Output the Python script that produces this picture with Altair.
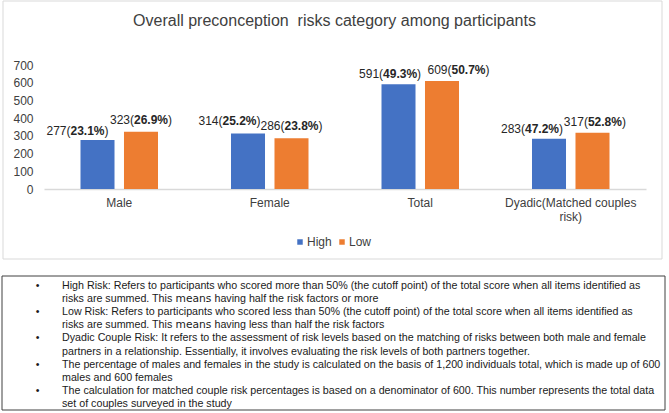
import altair as alt
import pandas as pd

# ---- data -------------------------------------------------------------
categories = ["Male", "Female", "Total", "Dyadic(Matched couples risk)"]
series = ["High", "Low"]
high_counts = [277, 314, 591, 283]
low_counts = [323, 286, 609, 317]
high_pct = [23.1, 25.2, 49.3, 47.2]
low_pct = [26.9, 23.8, 50.7, 52.8]
y_ticks = [0, 100, 200, 300, 400, 500, 600, 700]

title_text = "Overall preconception\u00a0 risks category among participants"

note_lines = [
    "High Risk: Refers to participants who scored more than 50% (the cutoff point) of the total score when all items identified as",
    "risks are summed. This",
    "Low Risk: Refers to participants who scored less than 50% (the cutoff point) of the total score when all items identified as",
    "risks are summed. This",
    "Dyadic Couple Risk: It refers to the assessment of risk levels based on the matching of risks between both male and female",
    "partners in a relationship. Essentially, it involves evaluating the risk levels of both partners together.",
    "The percentage of males and females in the study is calculated on the basis of 1,200 individuals total, which is made up of 600",
    "males and 600 females",
    "The calculation for matched couple risk percentages is based on a denominator of 600. This number represents the total data",
    "set of couples surveyed in the study",
]
# the word set in a different face inside lines 2 and 4, and what follows it
means_word = "means"
means_tails = ["having half the risk factors or more", "having less than half the risk factors"]
bullets = ["\u2022"] * 5

# ---- layout / style ----------------------------------------------------
W, H = 602, 124
PAD_L, PAD_T = 44, 65
OUTER_W, OUTER_H = 669, 413
BAND_PAD = 0.485
OFF_PAD = 0.218
STEP = W / len(categories)
GROUP_W = STEP * (1 - BAND_PAD)
SHIFT = GROUP_W / (2 - OFF_PAD) / 2          # bar centre offset from group centre
PX_PER_UNIT = H / 700

# value-label nudges (px): horizontal shift from bar centre, lift above bar top
label_nudge = {"High": [-20, -18.5, -8.4, -17], "Low": [0, 0, 16.5, 2.4]}
label_lift = {"High": [9, 12.6, 10, 10.3], "Low": [12, 12, 11, 11.3]}

BLUE, ORANGE = "#4472C4", "#ED7D31"
FONT = "Liberation Sans"
NOTE_SIZE = 10.7
NOTE_LH = 13.1
NOTE_X = 62
NOTE_Y0 = 289
# advance of "risks are summed. This " (Liberation Sans) and "means" (DejaVu Sans), in em
PREFIX_EM = 10.613
MEANS_FONT = "DejaVu Sans"
MEANS_EM = 3.357
SPACE_EM = 0.278

rows = []
for i, cat in enumerate(categories):
    for s, counts, pcts in (("High", high_counts, high_pct), ("Low", low_counts, low_pct)):
        side = -1 if s == "High" else 1
        rows.append({
            "category": cat,
            "series": s,
            "count": counts[i],
            "num": f"{counts[i]}(",
            "pct": f"{pcts[i]:.1f}%",
            "close": ")",
            "cx": STEP * (i + 0.5) + side * SHIFT + label_nudge[s][i],
            "cy": counts[i] + label_lift[s][i] / PX_PER_UNIT,
        })
df = pd.DataFrame(rows)

one = alt.Data(values=[{"k": 0}])

y_scale = alt.Scale(domain=[0, 700], nice=False)
y_axis = alt.Axis(
    values=y_ticks, title=None, domain=False, ticks=False, tickSize=0, grid=False,
    labelPadding=11, labelColor="#404040", labelFontSize=12, labelFont=FONT,
    labelOverlap=False,
)

# outer frame of the chart area
frame = alt.Chart(one).mark_rect(fillOpacity=0, stroke="#d9d9d9", strokeWidth=1).encode(
    x=alt.value(3 - PAD_L), x2=alt.value(662 - PAD_L),
    y=alt.value(1 - PAD_T), y2=alt.value(259 - PAD_T),
)

title = alt.Chart(one).mark_text(
    text=title_text, font=FONT, fontSize=16, color="#404040", align="center", baseline="middle"
).encode(x=alt.value(334.5 - PAD_L), y=alt.value(20.7 - PAD_T))

bars = alt.Chart(df).mark_bar().encode(
    x=alt.X(
        "category:N", sort=categories,
        scale=alt.Scale(paddingInner=BAND_PAD, paddingOuter=BAND_PAD / 2),
        axis=alt.Axis(
            title=None, labelAngle=0, ticks=False, domainColor="#d9d9d9", domainWidth=1.3,
            labelColor="#404040", labelFontSize=12, labelFont=FONT, labelPadding=8,
            labelLineHeight=14,
            labelExpr="datum.label == 'Dyadic(Matched couples risk)' ? ['Dyadic(Matched couples', 'risk)'] : datum.label",
        ),
    ),
    xOffset=alt.XOffset("series:N", sort=series, scale=alt.Scale(paddingInner=OFF_PAD, paddingOuter=0)),
    y=alt.Y("count:Q", scale=y_scale, axis=y_axis),
    color=alt.Color(
        "series:N", sort=series,
        scale=alt.Scale(domain=series, range=[BLUE, ORANGE]),
        legend=alt.Legend(
            title=None, orient="none", direction="horizontal", legendX=250, legendY=171,
            symbolType="square", symbolSize=30, symbolStrokeWidth=0,
            labelFontSize=12, labelFont=FONT, labelColor="#404040",
            columnPadding=4, labelOffset=1,
        ),
    ),
)

lx = alt.X("cx:Q", scale=alt.Scale(domain=[0, W], nice=False, zero=False), axis=None)
ly = alt.Y("cy:Q", scale=y_scale, axis=y_axis)
label_style = dict(font=FONT, fontSize=12, color="#262626", baseline="middle")

num_txt = alt.Chart(df).mark_text(align="right", dx=-7, **label_style).encode(x=lx, y=ly, text="num:N")
pct_txt = alt.Chart(df).mark_text(align="left", dx=-7, fontWeight="bold", **label_style).encode(x=lx, y=ly, text="pct:N")
cls_txt = alt.Chart(df).mark_text(align="left", dx=27, **label_style).encode(x=lx, y=ly, text="close:N")

# notes box beneath the chart
notes_box = alt.Chart(one).mark_rect(fillOpacity=0, stroke="#404040", strokeWidth=1).encode(
    x=alt.value(2 - PAD_L), x2=alt.value(665 - PAD_L),
    y=alt.value(276 - PAD_T), y2=alt.value(410 - PAD_T),
)
note_style = dict(fontSize=NOTE_SIZE, lineHeight=NOTE_LH, color="#1a1a1a", baseline="alphabetic")
notes = alt.Chart(one).mark_text(text=note_lines, font=FONT, align="left", **note_style).encode(
    x=alt.value(NOTE_X - PAD_L), y=alt.value(NOTE_Y0 - PAD_T)
)
bullet_txt = alt.Chart(one).mark_text(
    text=bullets, font=FONT, align="center", fontSize=NOTE_SIZE, lineHeight=2 * NOTE_LH,
    color="#1a1a1a", baseline="alphabetic",
).encode(x=alt.value(37.5 - PAD_L), y=alt.value(NOTE_Y0 - PAD_T))

means_x = NOTE_X + PREFIX_EM * NOTE_SIZE
tail_x = means_x + (MEANS_EM + SPACE_EM) * NOTE_SIZE
means_layers = []
for k, line_idx in enumerate((1, 3)):
    yb = NOTE_Y0 + line_idx * NOTE_LH
    means_layers.append(
        alt.Chart(one).mark_text(text=means_word, font=MEANS_FONT, align="left", **note_style).encode(
            x=alt.value(means_x - PAD_L), y=alt.value(yb - PAD_T)
        )
    )
    means_layers.append(
        alt.Chart(one).mark_text(text=means_tails[k], font=FONT, align="left", **note_style).encode(
            x=alt.value(tail_x - PAD_L), y=alt.value(yb - PAD_T)
        )
    )

chart = alt.layer(
    frame, title, bars, num_txt, pct_txt, cls_txt, notes_box, notes, bullet_txt, *means_layers
).resolve_scale(x="independent").properties(
    width=W, height=H,
    autosize=alt.AutoSizeParams(type="none"),
    padding={"left": PAD_L, "top": PAD_T, "right": OUTER_W - PAD_L - W, "bottom": OUTER_H - PAD_T - H},
    background="white",
).configure_view(stroke=None)

chart.save("out.html", embed_options={"renderer": "svg", "actions": False})
